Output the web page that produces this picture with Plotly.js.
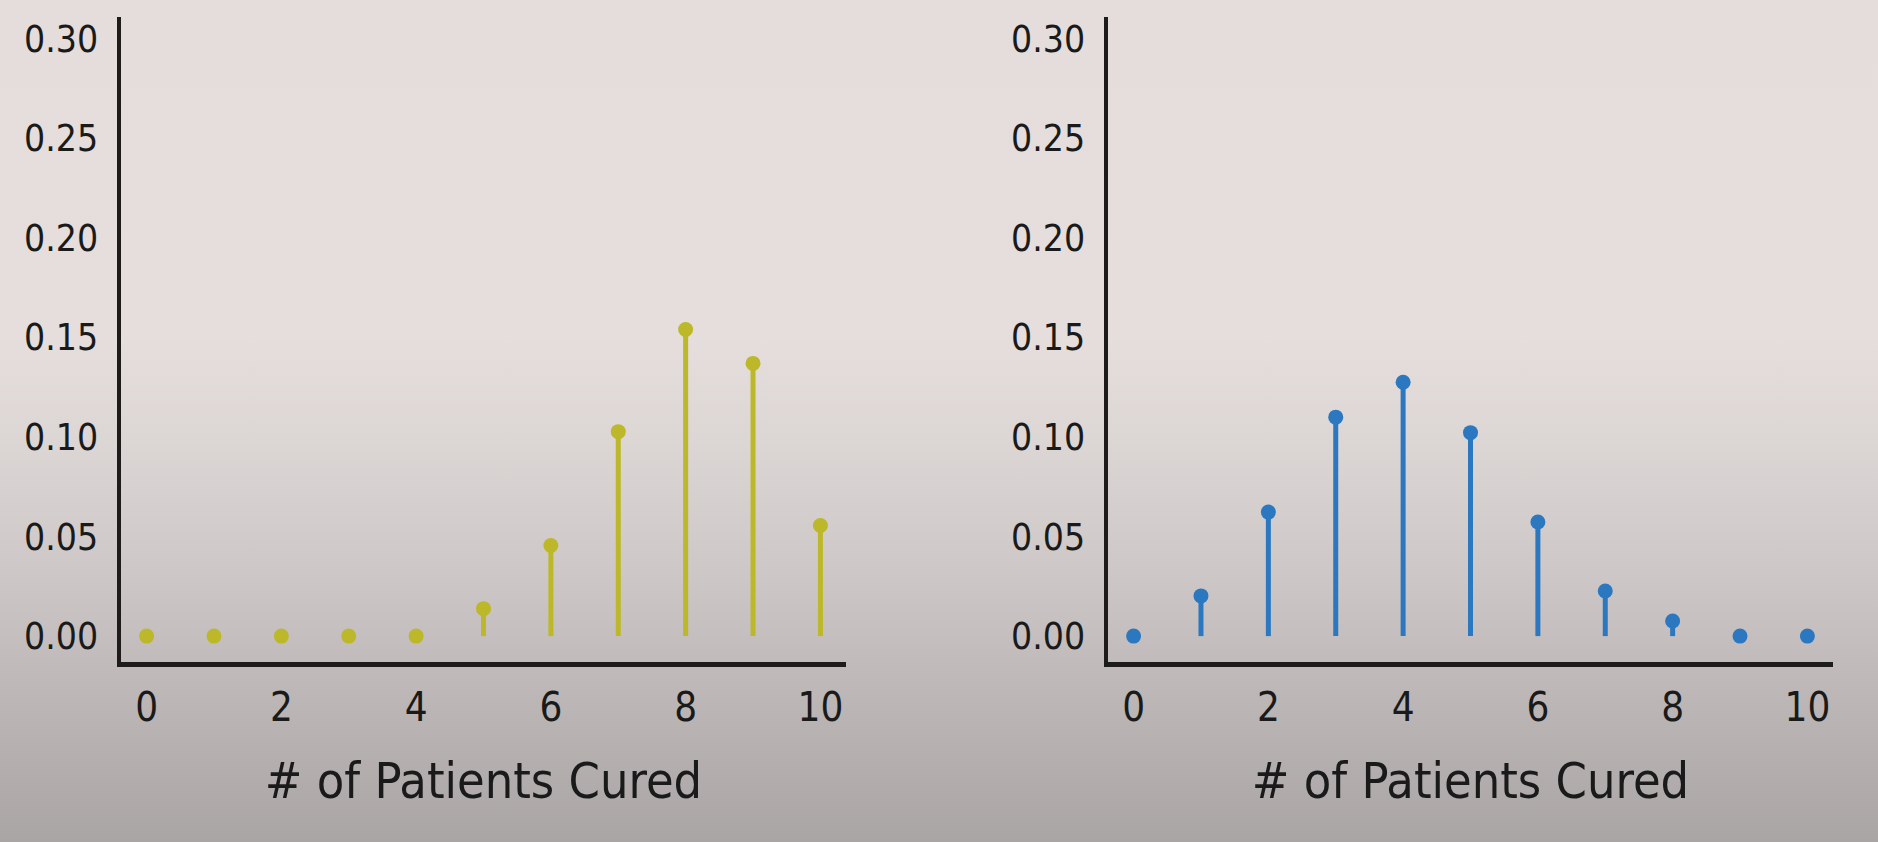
<!DOCTYPE html>
<html>
<head>
<meta charset="utf-8">
<script src="https://cdn.plot.ly/plotly-3.0.1.min.js"></script>
<style>
  html, body { margin: 0; padding: 0; width: 1878px; height: 842px; overflow: hidden; }
  body { background: linear-gradient(to bottom, #e4dddb 0%, #e5dedc 40%, #dcd6d5 52%, #cdc8c7 68%, #bdb8b7 82%, #a9a5a4 100%); }
  #chart { width: 1878px; height: 842px; }
</style>
</head>
<body>
<div id="chart"></div>
<script>
// Data
const patientsCured = [0, 1, 2, 3, 4, 5, 6, 7, 8, 9, 10];
const probLeft  = [0.0, 0.0, 0.0, 0.0, 0.0, 0.0138, 0.0455, 0.1027, 0.154, 0.137, 0.0556];
const probRight = [0.0, 0.0202, 0.0623, 0.110, 0.1275, 0.1022, 0.0573, 0.0227, 0.0076, 0.0, 0.0];
const xTickVals = [0, 2, 4, 6, 8, 10];
const yTickVals = [0, 0.05, 0.10, 0.15, 0.20, 0.25, 0.30];
const xTitle = "# of Patients Cured";

const yellow = "#bcb82a";
const blue = "#2b78c0";
const narrow = "Liberation Sans Narrow, DejaVu Sans Condensed, Arial Narrow, sans-serif";

function stemTrace(y, color, xa, ya) {
  return {
    type: "scatter", mode: "markers",
    x: patientsCured, y: y, xaxis: xa, yaxis: ya,
    marker: { color: color, size: 15 },
    error_y: { type: "data", symmetric: false, array: y.map(() => 0), arrayminus: y,
               color: color, thickness: 5, width: 0 },
    hoverinfo: "x+y", showlegend: false
  };
}

const xaxisBase = {
  range: [-0.38, 10.38], tickvals: xTickVals, ticks: "", showgrid: false, zeroline: false,
  showline: true, linecolor: "#1e1b1b", linewidth: 4.5,
  tickfont: { family: narrow, size: 40, color: "#1a1a1a" }, ticklabelstandoff: 6,
  title: { text: xTitle, font: { family: narrow, size: 50, color: "#1a1a1a" }, standoff: 36 },
  fixedrange: true
};
const yaxisBase = {
  range: [-0.013, 0.311], tickvals: yTickVals, tickformat: ".2f", ticks: "", showgrid: false,
  zeroline: false, showline: true, linecolor: "#1e1b1b", linewidth: 4.5,
  tickfont: { family: narrow, size: 37, color: "#1a1a1a" }, ticklabelstandoff: 11,
  fixedrange: true
};

const layout = {
  width: 1878, height: 842,
  margin: { l: 0, r: 0, t: 0, b: 0 },
  paper_bgcolor: "rgba(0,0,0,0)", plot_bgcolor: "rgba(0,0,0,0)",
  xaxis:  Object.assign({}, xaxisBase, { domain: [121/1878, 846/1878], anchor: "y" }),
  yaxis:  Object.assign({}, yaxisBase, { domain: [1 - 662/842, 1 - 17/842], anchor: "x" }),
  xaxis2: Object.assign({}, xaxisBase, { domain: [1108/1878, 1833/1878], anchor: "y2" }),
  yaxis2: Object.assign({}, yaxisBase, { domain: [1 - 662/842, 1 - 17/842], anchor: "x2" }),
  showlegend: false
};

Plotly.newPlot("chart", [
  stemTrace(probLeft, yellow, "x", "y"),
  stemTrace(probRight, blue, "x2", "y2")
], layout, { displayModeBar: false, staticPlot: true });
</script>
</body>
</html>
